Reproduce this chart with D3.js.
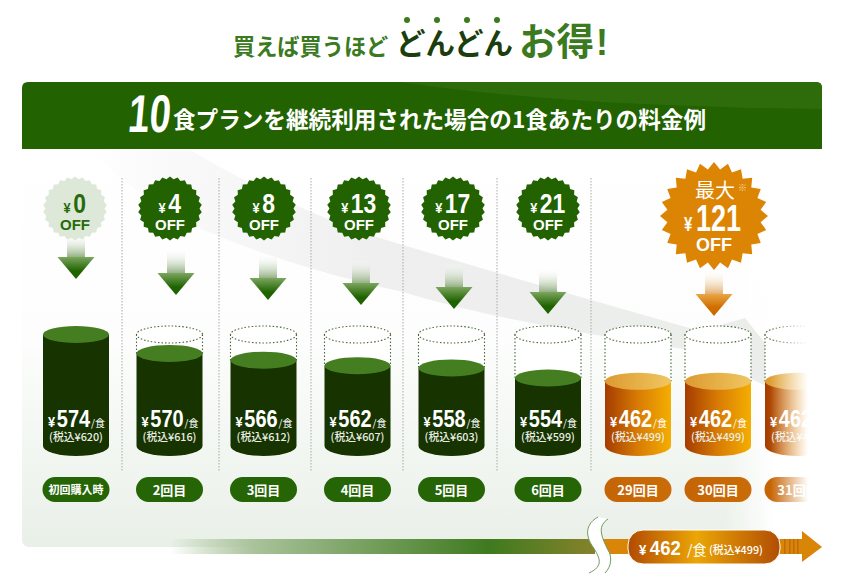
<!DOCTYPE html>
<html>
<head>
<meta charset="utf-8">
<script src="https://cdn.jsdelivr.net/npm/d3@7"></script>
<style>
html, body { margin: 0; padding: 0; background: #fff; }
svg { display: block; }
text { font-family: "Noto Sans CJK JP", sans-serif; }
.num { font-family: "Liberation Sans", sans-serif; font-weight: 700; }
</style>
</head>
<body>
<svg width="855" height="585"></svg>
<script>
// chart values
var visitLabels = ["初回購入時", "2回目", "3回目", "4回目", "5回目", "6回目", "29回目", "30回目", "31回目"];
var discounts = [0, 4, 8, 13, 17, 21, null, 121, null];
var prices = [574, 570, 566, 562, 558, 554, 462, 462, 462];
var taxPrices = [620, 616, 612, 607, 603, 599, 499, 499, 499];
var fillLevels = [100, 83, 77, 72, 70, 61, 58, 58, 58];
var isOrange = [false, false, false, false, false, false, true, true, true];

var rows = visitLabels.map(function(label, i) {
    return {label: label, off: discounts[i], price: prices[i], tax: taxPrices[i], level: fillLevels[i], orange: isOrange[i], first: i == 0};
});

var svg = d3.select("svg");
var defs = svg.append("defs");

// scales
var glassX = d3.scaleOrdinal().domain(visitLabels).range([76, 169.5, 263.5, 357.5, 451.5, 548, 638, 718, 798]);
var badgeX = d3.scaleOrdinal().domain(visitLabels).range([75, 170, 264, 359, 453, 548, 0, 714, 0]);
var arrowX = d3.scaleOrdinal().domain(visitLabels).range([76, 176, 268, 361, 454, 548, 0, 714, 0]);
var arrowTip = d3.scaleOrdinal().domain(visitLabels).range([279, 295, 300, 305, 309, 314, 0, 316, 0]);
var levelY = d3.scaleLinear().domain([0, 100]).range([446, 334.5]);

var glassRx = 33, glassRy = 8.5, bottomRy = 10;

function gradient(id, stops, vertical) {
    var g = defs.append("linearGradient").attr("id", id)
        .attr("x1", 0).attr("y1", 0)
        .attr("x2", vertical ? 0 : 1).attr("y2", vertical ? 1 : 0);
    stops.forEach(function(s) {
        g.append("stop").attr("offset", s[0]).attr("stop-color", s[1]).attr("stop-opacity", s[2] == undefined ? 1 : s[2]);
    });
}

// yen + digits, squeezed because the installed fonts have no narrow cut
function yen(sel, x, y, yenSize, size, sx, gap, value) {
    var t = sel.append("text").attr("class", "num")
        .attr("transform", "translate(" + x + "," + y + ") scale(" + sx + ",1)");
    t.append("tspan").attr("font-size", yenSize).text("¥");
    t.append("tspan").attr("font-size", size).attr("dx", gap).text(value);
    return t;
}

gradient("panelGrad", [[0, "#ffffff"], [0.5, "#fcfdfc"], [1, "#e9f0e8"]], true);
gradient("sweepGrad", [[0, "#eeeeee", 0], [0.2, "#f3f4f3", 0.7], [0.4, "#eeefee"], [1, "#ebedeb"]], false);
gradient("barGrad", [[0, "#9dbb8c", 0], [0.2, "#a9c29a"], [0.75, "#3f7a1f"], [1, "#86822a"]], false);
gradient("greenShaft", [[0, "#ffffff", 0.1], [1, "#8cab7a"]], true);
gradient("greenHead", [[0, "#7ba65e"], [0.65, "#1f6200"], [1, "#1f6200"]], true);
gradient("orangeShaft", [[0, "#ffffff", 0.1], [1, "#e0a860"]], true);
gradient("orangeHead", [[0, "#e8a648"], [0.6, "#d06f00"], [1, "#c96a00"]], true);
gradient("orangeBody", [[0, "#a43c00"], [0.5, "#d87c05"], [1, "#f4ae00"]], false);
gradient("orangeTop", [[0, "#dd9a30"], [1, "#f0c660"]], false);
gradient("pillFade", [[0, "#c56404"], [1, "#ca6c08"]], false);
gradient("priceGrad", [[0, "#b24a02"], [0.45, "#eba606"], [1, "#b14d04"]], false);
gradient("rightFade", [[0, "#ffffff", 0], [1, "#ffffff", 1]], false);

// title
var title = svg.append("g");
title.append("text").attr("x", 233).attr("y", 55).attr("font-size", 22.2).attr("font-weight", 700)
    .attr("fill", "#3b7a1e").text("買えば買うほど");
title.append("text").attr("x", 396).attr("y", 54).attr("font-size", 29.5).attr("font-weight", 700)
    .attr("fill", "#1b3e0c").text("どんどん");
title.append("text").attr("x", 519).attr("y", 55).attr("font-size", 37.5).attr("font-weight", 700)
    .attr("fill", "#3b7a1e").text("お得");
title.append("text").attr("class", "num").attr("x", 596).attr("y", 55).attr("font-size", 36)
    .attr("fill", "#3b7a1e").text("!");
title.selectAll("circle").data(d3.range(4)).enter().append("circle")
    .attr("cx", function(d) { return 407 + d * 30; })
    .attr("cy", 20).attr("r", 3).attr("fill", "#3b7a1e");

// panel background
svg.append("rect").attr("x", 22).attr("y", 140).attr("width", 800).attr("height", 407)
    .attr("rx", 7).attr("fill", "url(#panelGrad)");
svg.append("rect").attr("x", 725).attr("y", 140).attr("width", 50).attr("height", 410).attr("fill", "url(#rightFade)");
svg.append("rect").attr("x", 775).attr("y", 140).attr("width", 50).attr("height", 410).attr("fill", "#fff");

// big pale sweep behind everything
svg.append("path")
    .attr("d", "M90,150 L190,150 Q300,215 403,245 Q520,280 700,331 L745,318 L765,343 L785,395 L690,350 Q500,322 403,292 Q300,270 203,230 Q140,200 90,150 Z")
    .attr("fill", "url(#sweepGrad)");

// header
svg.append("path")
    .attr("d", "M22,149 V88 Q22,82 28,82 H816 Q822,82 822,88 V149 Z")
    .attr("fill", "#226200");
svg.append("path")
    .attr("d", "M400,82 H816 Q822,82 822,88 V109 Q560,106 400,82 Z")
    .attr("fill", "#2e6c0b");
svg.append("text").attr("class", "num")
    .attr("transform", "translate(127,132) skewX(-5) scale(0.72,1)")
    .attr("font-size", 53).attr("fill", "#fff").text("10");
svg.append("text").attr("x", 173).attr("y", 128).attr("font-size", 22.6).attr("font-weight", 700)
    .attr("fill", "#fff").text("食プランを継続利用された場合の1食あたりの料金例");

// dotted separators
svg.selectAll(".sep").data([122, 219, 311, 403, 497, 591]).enter().append("line")
    .attr("class", "sep")
    .attr("x1", function(d) { return d; }).attr("x2", function(d) { return d; })
    .attr("y1", 178).attr("y2", 472)
    .attr("stroke", "#a4aea0").attr("stroke-width", 1).attr("stroke-dasharray", "1.5 1.5");

// glasses
var glass = svg.selectAll(".glass").data(rows).enter().append("g")
    .attr("class", "glass")
    .attr("transform", function(d) { return "translate(" + glassX(d.label) + ",0)"; });

glass.filter(function(d) { return !d.first; }).each(function(d) {
    var g = d3.select(this), top = levelY(100);
    g.append("path")
        .attr("d", "M" + (-glassRx) + "," + top + " V" + levelY(d.level) + " H" + glassRx + " V" + top + " Z")
        .attr("fill", "#fff");
    g.append("ellipse").attr("cy", top).attr("rx", glassRx).attr("ry", glassRy)
        .attr("fill", "#fff").attr("stroke", "#49683a").attr("stroke-width", 1.1).attr("stroke-dasharray", "1.5 2");
    [-glassRx, glassRx].forEach(function(x) {
        g.append("line").attr("x1", x).attr("x2", x).attr("y1", top).attr("y2", levelY(d.level))
            .attr("stroke", "#49683a").attr("stroke-width", 1.1).attr("stroke-dasharray", "1.5 2");
    });
});

glass.append("path")
    .attr("d", function(d) {
        var y = levelY(d.level), b = levelY(0);
        return "M" + (-glassRx) + "," + y + " V" + b + " A" + glassRx + "," + bottomRy + " 0 0 0 " + glassRx + "," + b + " V" + y + " Z";
    })
    .attr("fill", function(d) { return d.orange ? "url(#orangeBody)" : "#163300"; });

glass.append("ellipse")
    .attr("cy", function(d) { return levelY(d.level); })
    .attr("rx", glassRx).attr("ry", glassRy)
    .attr("fill", function(d) { return d.orange ? "url(#orangeTop)" : "#457e20"; });

glass.each(function(d) {
    var g = d3.select(this).append("g").attr("fill", "#fff");
    yen(g, -28, 427, 15, 23.5, 0.85, 2, d.price);
    g.append("text").attr("x", 15).attr("y", 427).attr("font-size", 10).text("/食");
});

glass.append("text").attr("text-anchor", "middle").attr("y", 441).attr("fill", "#e8eee4")
    .attr("font-size", 10.8).attr("font-weight", 500)
    .text(function(d) { return "(税込¥" + d.tax + ")"; });

// visit pills
glass.append("rect").attr("x", -33.5).attr("y", 477).attr("width", 67).attr("height", 25).attr("rx", 12.5)
    .attr("fill", function(d) { return d.orange ? "url(#pillFade)" : "#266506"; });
glass.append("text").attr("text-anchor", "middle").attr("y", function(d) { return d.first ? 494 : 495; })
    .attr("fill", "#fff").attr("font-weight", 700)
    .attr("font-size", function(d) { return d.first ? 11 : 13; })
    .text(function(d) { return d.label; });

// fade out the last glass
svg.append("rect").attr("x", 770).attr("y", 320).attr("width", 38).attr("height", 187).attr("fill", "url(#rightFade)");
svg.append("rect").attr("x", 808).attr("y", 320).attr("width", 30).attr("height", 187).attr("fill", "#fff");

// down arrows
var arrowRows = rows.filter(function(d) { return d.off != null; });
var arrow = svg.selectAll(".arrow").data(arrowRows).enter().append("g")
    .attr("class", "arrow")
    .attr("transform", function(d) { return "translate(" + arrowX(d.label) + "," + arrowTip(d.label) + ")"; });
arrow.append("rect").attr("x", -9).attr("y", -45).attr("width", 18).attr("height", 24)
    .attr("fill", function(d) { return d.orange ? "url(#orangeShaft)" : "url(#greenShaft)"; });
arrow.append("path").attr("d", "M-18.5,-22 H18.5 L0,0 Z")
    .attr("fill", function(d) { return d.orange ? "url(#orangeHead)" : "url(#greenHead)"; });

// starburst badges
function star(teeth, outer, inner) {
    var pts = d3.range(teeth * 2).map(function(i) {
        return [i * Math.PI / teeth, i % 2 ? inner : outer];
    });
    return d3.lineRadial().curve(d3.curveLinearClosed)(pts);
}

var badge = svg.selectAll(".badge").data(arrowRows).enter().append("g")
    .attr("class", "badge")
    .attr("transform", function(d) { return "translate(" + badgeX(d.label) + "," + (d.orange ? 216 : 208.5) + ")"; });

badge.append("path")
    .attr("d", function(d) { return d.orange ? star(24, 54, 47) : star(26, 32, 29.5); })
    .attr("fill", function(d) { return d.orange ? "#dc8505" : (d.first ? "#dde8d8" : "#226200"); });

badge.filter(function(d) { return !d.orange; }).each(function(d) {
    var g = d3.select(this).append("g").attr("fill", d.first ? "#266a0a" : "#fff");
    var w = String(d.off).length * 12.8;
    yen(g, -w / 2 - 5, 4.5, 15, 27, 0.85, 3, d.off);
    g.append("text").attr("class", "num").attr("text-anchor", "middle").attr("y", 21)
        .attr("font-size", 15).text("OFF");
});

badge.filter(function(d) { return d.orange; }).each(function(d) {
    var g = d3.select(this).append("g").attr("fill", "#fff");
    g.append("text").attr("x", 1).attr("y", -18).attr("text-anchor", "middle")
        .attr("font-size", 20).text("最大");
    g.append("text").attr("x", 24).attr("y", -25).attr("fill", "#f6dcae").attr("font-size", 9).text("※");
    yen(g, -30, 15, 20, 36, 0.75, 5, d.off);
    g.append("text").attr("class", "num").attr("text-anchor", "middle").attr("y", 35)
        .attr("font-size", 18).text("OFF");
});

// bottom bar
svg.append("rect").attr("x", 170).attr("y", 539).attr("width", 425).attr("height", 15).attr("fill", "url(#barGrad)");
svg.append("path").attr("d", "M600,539 H802 V531 L822,547 L802,562 V554 H600 Z").attr("fill", "#d98508");
svg.selectAll(".stripe").data([784, 789, 793, 797]).enter().append("rect")
    .attr("class", "stripe").attr("x", function(d) { return d; }).attr("y", 539)
    .attr("width", 1.5).attr("height", 15).attr("fill", "#c06a08");
svg.append("path")
    .attr("d", "M598,517 C582,526 588,540 593,547 C600,558 604,566 589,573 L605,573 C612,566 612,556 608,550 C600,534 598,526 608,519 Z")
    .attr("fill", "#fff");
svg.append("path").attr("d", "M598,517 C582,526 588,540 593,547 C600,558 604,566 589,573").attr("fill", "none").attr("stroke", "#6f9a5a");
svg.append("path").attr("d", "M608,519 C598,526 600,534 608,550 C612,556 612,566 605,573").attr("fill", "none").attr("stroke", "#6f9a5a");

svg.append("rect").attr("x", 628).attr("y", 530).attr("width", 152).attr("height", 34).attr("rx", 15)
    .attr("fill", "url(#priceGrad)").attr("stroke", "#fff").attr("stroke-width", 1);

var bottomText = svg.append("g").attr("fill", "#fff");
yen(bottomText, 639, 555, 15, 21, 0.88, 4, prices[7]);
bottomText.append("text").attr("x", 687).attr("y", 555).attr("font-size", 14).text("/食");
bottomText.append("text").attr("x", 709).attr("y", 554).attr("font-size", 10.8).attr("font-weight", 500)
    .text("(税込¥" + taxPrices[7] + ")");
</script>
</body>
</html>
